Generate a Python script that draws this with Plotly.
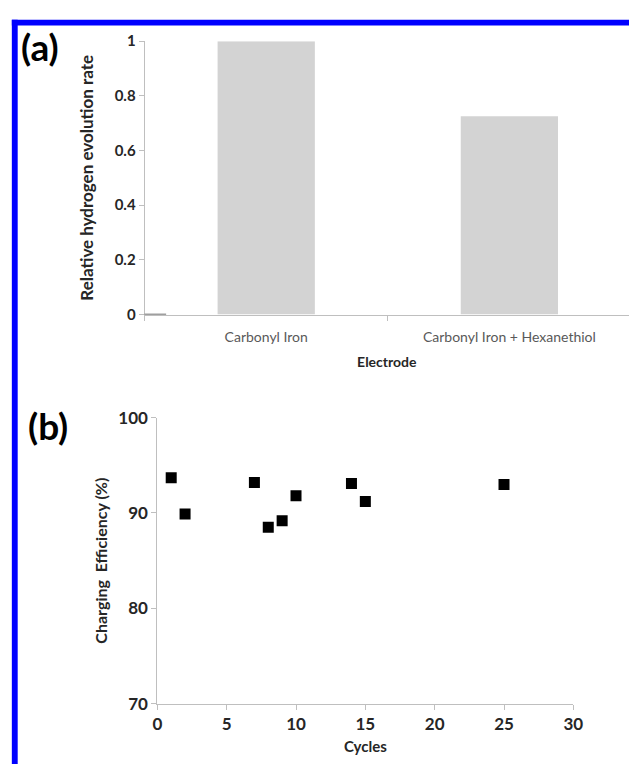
import plotly.graph_objects as go

# Panel (a) data
electrodes = ["Carbonyl Iron", "Carbonyl Iron + Hexanethiol"]
relative_rate = [1.0, 0.725]

# Panel (b) data
cycles = [1, 2, 7, 8, 9, 10, 14, 15, 25]
efficiency = [93.7, 89.9, 93.2, 88.5, 89.2, 91.8, 93.1, 91.2, 93.0]

a_yticks = [0, 0.2, 0.4, 0.6, 0.8, 1]
a_yticktext = ["0", "0.2", "0.4", "0.6", "0.8", "1"]
b_yticks = [70, 80, 90, 100]
b_xticks = [0, 5, 10, 15, 20, 25, 30]

W, H = 639, 774
FONT = "Lato"
AX = "#bfbfbf"

def px(x):
    return x / W

def py(y):
    return 1 - y / H

fig = go.Figure()

fig.add_trace(go.Bar(x=electrodes, y=relative_rate, marker=dict(color="#d3d3d3", line=dict(width=0)),
                     width=0.4, xaxis="x", yaxis="y", showlegend=False))
fig.add_trace(go.Scatter(x=cycles, y=efficiency, mode="markers",
                         marker=dict(symbol="square", size=11, color="black"),
                         xaxis="x2", yaxis="y2", showlegend=False))

fig.update_layout(
    width=W, height=H,
    margin=dict(l=0, r=0, t=0, b=0),
    paper_bgcolor="white", plot_bgcolor="white",
    font=dict(family=FONT, color="#262626"),
    xaxis=dict(domain=[px(143), 1], range=[-0.5, 1.492], anchor="y",
               showline=True, linecolor=AX, linewidth=1, ticks="outside", tickson="boundaries",
               ticklen=5, tickcolor=AX, showgrid=False, zeroline=False,
               tickfont=dict(size=14, color="#595959", family=FONT), ticklabelstandoff=10,
               title=dict(text="<b>Electrode</b>", font=dict(size=14, color="#262626"), standoff=12)),
    yaxis=dict(domain=[py(312), py(31)], range=[0, 1], anchor="x",
               showline=True, linecolor=AX, linewidth=1, ticks="outside", ticklen=5, tickcolor=AX,
               tickvals=a_yticks, ticktext=a_yticktext, showgrid=False, zeroline=False,
               tickfont=dict(size=15, color="#262626", family=FONT, weight="bold"),
               title=dict(text="<b>Relative hydrogen evolution rate</b>", font=dict(size=17, color="#262626"),
                          standoff=16)),
    xaxis2=dict(domain=[px(156), px(582)], range=[0, 30], anchor="y2",
                showline=True, linecolor=AX, linewidth=1, ticks="outside", ticklen=5, tickcolor=AX,
                tickvals=b_xticks, showgrid=False, zeroline=False,
                tickfont=dict(size=17, color="#262626", weight="bold"),
                title=dict(text="<b>Cycles</b>", font=dict(size=15, color="#262626"), standoff=8)),
    yaxis2=dict(domain=[py(712), py(418)], range=[70, 100], anchor="x2",
                showline=True, linecolor=AX, linewidth=1, ticks="outside", ticklen=5, tickcolor=AX,
                tickvals=b_yticks, showgrid=False, zeroline=False,
                tickfont=dict(size=17, color="#262626", weight="bold"),
                title=dict(text="<b>Charging  Efficiency (%)</b>", font=dict(size=16, color="#262626"),
                           standoff=6)),
)

# panel labels
fig.add_annotation(x=px(14), y=py(36), xref="paper", yref="paper", text="<b>(a)</b>", showarrow=False,
                   xanchor="left", yanchor="middle", font=dict(size=37, color="black", family=FONT))
fig.add_annotation(x=px(21), y=py(426), xref="paper", yref="paper", text="<b>(b)</b>", showarrow=False,
                   xanchor="left", yanchor="middle", font=dict(size=37, color="black", family=FONT))

# short dark segment at y=0 in panel (a)
fig.add_shape(type="line", xref="x domain", yref="y", x0=0, x1=22 / 496, y0=0, y1=0,
              line=dict(color="#404040", width=1.5))

# blue frame (top and left)
fig.add_shape(type="rect", xref="paper", yref="paper", x0=px(7), x1=1, y0=py(15), y1=py(9),
              fillcolor="#0000ff", line=dict(width=0), layer="above")
fig.add_shape(type="rect", xref="paper", yref="paper", x0=px(7), x1=px(13), y0=0, y1=py(9),
              fillcolor="#0000ff", line=dict(width=0), layer="above")

fig.write_html("out.html")
